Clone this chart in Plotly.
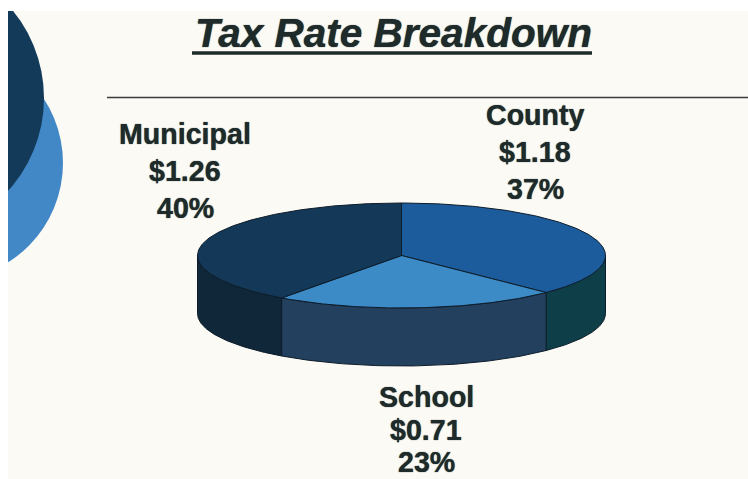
import numpy as np
import plotly.graph_objects as go

categories = ["County", "School", "Municipal"]
rates = [1.18, 0.71, 1.26]
rate_labels = ["$1.18", "$0.71", "$1.26"]
pct_labels = ["37%", "23%", "40%"]
top_colors = ["#1d5c9c", "#3c8ac6", "#133858"]
side_colors = ["#0e3f48", "#24405f", "#0f2738"]

W, H = 748, 479
CX, CY, RX, RY, DEPTH = 401.5, 255.5, 204, 52.5, 58
INK = "#1e2b2a"
EDGE = "#0c1c2a"
PAPER = "#fcfaf5"

fig = go.Figure()


def ex(t):
    return CX + RX * np.sin(t)


def ey(t):
    return CY - RY * np.cos(t)


fracs = np.array(rates) / sum(rates)
edges = np.concatenate([[0], np.cumsum(fracs)]) * 2 * np.pi

# side walls: the part of each slice's rim on the front half of the ellipse
for i in range(len(rates)):
    a = max(edges[i], np.pi / 2)
    b = min(edges[i + 1], 3 * np.pi / 2)
    if b <= a:
        continue
    t = np.linspace(a, b, 80)
    xs = np.concatenate([ex(t), ex(t[::-1]), [ex(a)]])
    ys = np.concatenate([ey(t), ey(t[::-1]) + DEPTH, [ey(a)]])
    fig.add_trace(go.Scatter(x=xs, y=ys, mode="lines", fill="toself",
                             fillcolor=side_colors[i], name=categories[i],
                             line=dict(color=EDGE, width=1), hoverinfo="skip"))

# top faces
for i in range(len(rates)):
    t = np.linspace(edges[i], edges[i + 1], 160)
    xs = np.concatenate([[CX], ex(t), [CX]])
    ys = np.concatenate([[CY], ey(t), [CY]])
    fig.add_trace(go.Scatter(x=xs, y=ys, mode="lines", fill="toself",
                             fillcolor=top_colors[i], name=categories[i],
                             line=dict(color=EDGE, width=1), hoverinfo="skip"))

label_pos = {"County": (535, 115, 37), "School": (426, 397, 32.5), "Municipal": (185, 134, 37)}
annotations = [dict(x=393, y=33, xref="x", yref="y", text="<b><i>Tax Rate Breakdown</i></b>",
                    showarrow=False, xanchor="center", yanchor="middle",
                    font=dict(family="Liberation Sans", size=40.5, color=INK,
                              shadow="0 0 1px " + INK))]
for i, c in enumerate(categories):
    lx, ly, step = label_pos[c]
    for j, s in enumerate([c, rate_labels[i], pct_labels[i]]):
        annotations.append(dict(x=lx, y=ly + j * step, xref="x", yref="y",
                                text="<b>%s</b>" % s, showarrow=False,
                                xanchor="center", yanchor="middle",
                                font=dict(family="Liberation Sans", size=28.6, color=INK,
                                          shadow="0 0 1px " + INK)))

shapes = [
    dict(type="rect", xref="x", yref="y", x0=8, x1=W, y0=11, y1=H,
         fillcolor=PAPER, line_width=0, layer="below"),
    dict(type="circle", xref="x", yref="y", x0=-170, x1=63, y0=46, y1=280,
         fillcolor="#4288c6", line_width=0, layer="below"),
    dict(type="circle", xref="x", yref="y", x0=-232, x1=44, y0=-40, y1=236,
         fillcolor="#143a5a", line_width=0, layer="below"),
    dict(type="rect", xref="x", yref="y", x0=0, x1=8, y0=0, y1=H,
         fillcolor="white", line_width=0, layer="below"),
    dict(type="rect", xref="x", yref="y", x0=0, x1=W, y0=0, y1=11,
         fillcolor="white", line_width=0, layer="below"),
    dict(type="line", xref="x", yref="y", x0=192, x1=592, y0=53, y1=53,
         line=dict(color=INK, width=3.5)),
    dict(type="line", xref="x", yref="y", x0=107, x1=W, y0=97.5, y1=97.5,
         line=dict(color="#3a3a3a", width=1.5)),
]

fig.update_layout(
    width=W, height=H, autosize=False,
    margin=dict(l=0, r=0, t=0, b=0),
    paper_bgcolor="white", plot_bgcolor="rgba(0,0,0,0)",
    showlegend=False, shapes=shapes, annotations=annotations,
    xaxis=dict(range=[0, W], visible=False, fixedrange=True),
    yaxis=dict(range=[H, 0], visible=False, fixedrange=True),
)
fig.write_html("out.html", config={"displayModeBar": False},
               post_script="document.body.style.margin='0';document.body.style.overflow='hidden';")
